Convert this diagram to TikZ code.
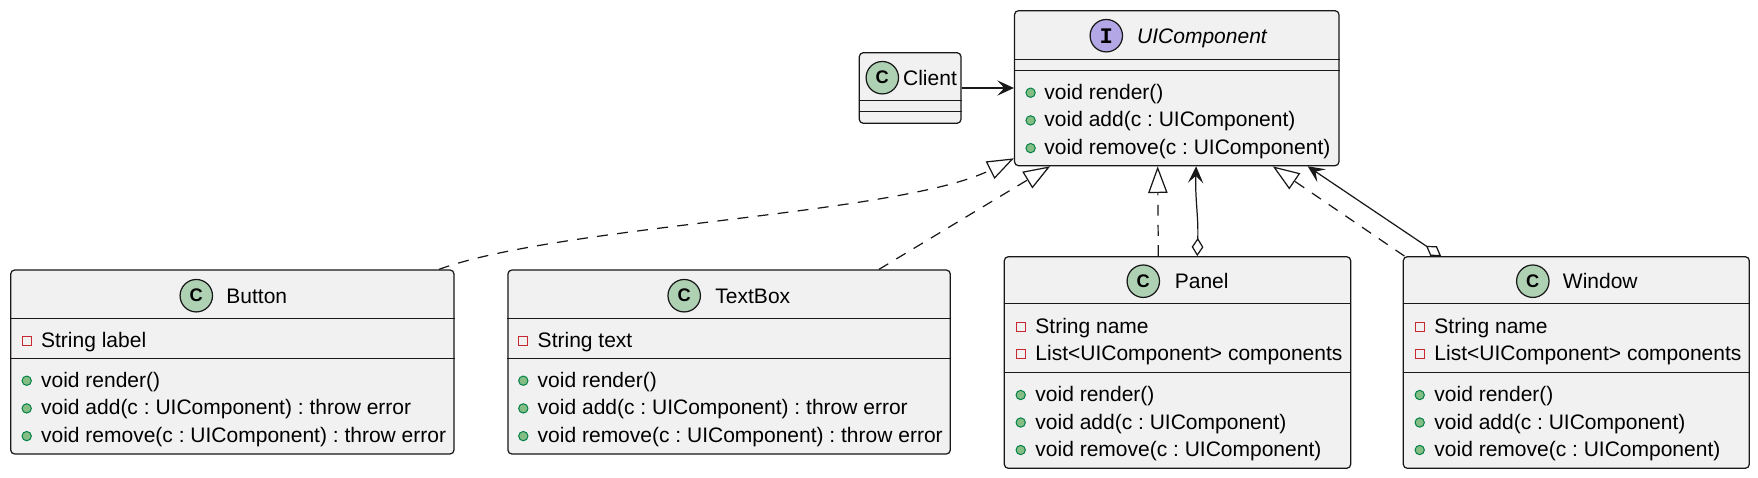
\documentclass[tikz,border=0pt]{standalone}
\usepackage{fontspec}
\setmainfont{Liberation Sans}
\setmonofont{Liberation Mono}
\usepackage{tikz}
\usetikzlibrary{arrows.meta}
\usetikzlibrary{positioning}
\frenchspacing

\definecolor{linec}{HTML}{181818}
\definecolor{boxfill}{HTML}{F1F1F1}
\definecolor{classc}{HTML}{ADD1B2}
\definecolor{ifacec}{HTML}{B4A7E5}
\definecolor{privc}{HTML}{C82930}
\definecolor{pubfill}{HTML}{84BE84}
\definecolor{publine}{HTML}{038048}

\tikzset{
    classbox/.style 2 args={draw=linec, fill=boxfill, line width=0.55pt, rounded corners=1.8pt,
        minimum width=#1*0.45pt, minimum height=#2*0.45pt, inner sep=0pt},
    badge/.style={circle, draw=linec, line width=0.55pt, fill=#1, minimum size=14.6pt, inner sep=0pt,
        font=\fontsize{8.2pt}{8.2pt}\selectfont\bfseries},
    classname/.style={anchor=base, inner sep=0pt},
    member/.style={anchor=base west, inner sep=0pt},
    privmark/.style={draw=privc, line width=0.45pt, minimum size=4.1pt, inner sep=0pt},
    pubmark/.style={circle, draw=publine, fill=pubfill, line width=0.45pt, minimum size=4.2pt, inner sep=0pt},
    sep/.style={draw=linec, line width=0.5pt},
    realize/.style={draw=linec, line width=0.55pt, dash pattern=on 4.9pt off 4.2pt,
        -{Triangle[open, length=12pt, width=8.7pt]}},
    assoc/.style={draw=linec, line width=0.55pt, -{Stealth[length=7.5pt, width=6.9pt, inset=3.2pt]}},
    aggr/.style={draw=linec, line width=0.55pt,
        {Diamond[open, length=8.2pt, width=5.3pt]}-{Stealth[length=7.5pt, width=6.9pt, inset=3.2pt]}}
}

\begin{document}
\begin{tikzpicture}[x=0.45pt, y=-0.45pt, font=\fontsize{9.45pt}{11pt}\selectfont]
        \fill[white] (0, 0) rectangle (1758, 477);
        \useasboundingbox (0, 0) rectangle (1758, 477);

        % class boxes
        \node[classbox={101.7}{70.6}] (client) at (910.15, 88) {};
        \node[classbox={324.5}{155}] (uicomp) at (1176.75, 88.2) {};
        \node[classbox={443.3}{184}] (button) at (232.35, 362) {};
        \node[classbox={442.4}{184}] (textbox) at (729.1, 362) {};
        \node[classbox={346.4}{211.6}] (panel) at (1177.5, 362.5) {};
        \node[classbox={346}{211.6}] (window) at (1576.3, 362.5) {};

        % headers
        \node[badge=classc] (client-badge) at (882.3, 77.7) {C};
        \node[classname] (client-name) at (930, 85.2) {Client};
        \node[badge=ifacec, font=\fontsize{10pt}{10pt}\selectfont\ttfamily\bfseries] (uicomp-badge) at (1106.3, 35.7) {I};
        \node[classname] (uicomp-name) at (1202, 43.2) {\itshape UIComponent};
        \node[badge=classc] (button-badge) at (196.3, 295.7) {C};
        \node[classname] (button-name) at (256.8, 303.2) {Button};
        \node[badge=classc] (textbox-badge) at (684.2, 295.7) {C};
        \node[classname] (textbox-name) at (752.8, 303.2) {TextBox};
        \node[badge=classc] (panel-badge) at (1143.3, 281.2) {C};
        \node[classname] (panel-name) at (1201.7, 288.7) {Panel};
        \node[badge=classc] (window-badge) at (1532.8, 281.2) {C};
        \node[classname] (window-name) at (1600.3, 288.7) {Window};

        % separators
        \draw[sep] (client.west |- 0,100.5) -- (client.east |- 0,100.5);
        \draw[sep] (client.west |- 0,111.5) -- (client.east |- 0,111.5);
        \draw[sep] (uicomp.west |- 0,59.5) -- (uicomp.east |- 0,59.5);
        \draw[sep] (uicomp.west |- 0,70.5) -- (uicomp.east |- 0,70.5);
        \draw[sep] (button.west |- 0,318.5) -- (button.east |- 0,318.5);
        \draw[sep] (button.west |- 0,358.5) -- (button.east |- 0,358.5);
        \draw[sep] (textbox.west |- 0,318.5) -- (textbox.east |- 0,318.5);
        \draw[sep] (textbox.west |- 0,358.5) -- (textbox.east |- 0,358.5);
        \draw[sep] (panel.west |- 0,303.5) -- (panel.east |- 0,303.5);
        \draw[sep] (panel.west |- 0,372.5) -- (panel.east |- 0,372.5);
        \draw[sep] (window.west |- 0,303.5) -- (window.east |- 0,303.5);
        \draw[sep] (window.west |- 0,372.5) -- (window.east |- 0,372.5);

        % members
        \foreach \txt [count=\i] in {void render(), void add(c : UIComponent), void remove(c : UIComponent)} {
            \node[pubmark] (uicomp-dot\i) at (1030.6, {92.7+27.7*(\i-1)}) {};
            \node[member] (uicomp-m\i) at (1044, {99.2+27.7*(\i-1)}) {\txt};
        }

        \node[privmark] (button-sq1) at (26.7, 340.7) {};
        \node[member] (button-a1) at (40.7, 347.2) {String label};
        \foreach \txt [count=\i] in {void render(), void add(c : UIComponent) : throw error, void remove(c : UIComponent) : throw error} {
            \node[pubmark] (button-dot\i) at (26.7, {380.7+27.7*(\i-1)}) {};
            \node[member] (button-m\i) at (40.7, {387.2+27.7*(\i-1)}) {\txt};
        }

        \node[privmark] (textbox-sq1) at (523.3, 340.7) {};
        \node[member] (textbox-a1) at (537.3, 347.2) {String text};
        \foreach \txt [count=\i] in {void render(), void add(c : UIComponent) : throw error, void remove(c : UIComponent) : throw error} {
            \node[pubmark] (textbox-dot\i) at (523.3, {380.7+27.7*(\i-1)}) {};
            \node[member] (textbox-m\i) at (537.3, {387.2+27.7*(\i-1)}) {\txt};
        }

        \foreach \txt [count=\i] in {String name, List<UIComponent> components} {
            \node[privmark] (panel-sq\i) at (1020.7, {326.7+27.6*(\i-1)}) {};
            \node[member] (panel-a\i) at (1035, {333.2+27.6*(\i-1)}) {\txt};
            \node[privmark] (window-sq\i) at (1419.7, {326.7+27.6*(\i-1)}) {};
            \node[member] (window-a\i) at (1434, {333.2+27.6*(\i-1)}) {\txt};
        }
        \foreach \txt [count=\i] in {void render(), void add(c : UIComponent), void remove(c : UIComponent)} {
            \node[pubmark] (panel-dot\i) at (1020.7, {395+27.5*(\i-1)}) {};
            \node[member] (panel-m\i) at (1035, {401.5+27.5*(\i-1)}) {\txt};
            \node[pubmark] (window-dot\i) at (1419.7, {395+27.5*(\i-1)}) {};
            \node[member] (window-m\i) at (1434, {401.5+27.5*(\i-1)}) {\txt};
        }

        % relations
        \draw[assoc] (client.east) -- (client.east -| uicomp.west);
        \draw[realize] ([xshift=-7.07pt]button.north east) .. controls (560, 225) and (900, 215) .. ([yshift=3.6pt]uicomp.south west);
        \draw[realize] ([xshift=-32.4pt]textbox.north east) -- ([xshift=16.3pt]uicomp.south west);
        \draw[realize] ([xshift=-8.64pt]panel.north) -- ([xshift=64.7pt]uicomp.south west);
        \draw[aggr] ([xshift=8.9pt]panel.north) .. controls (1198.5, 215) and (1195, 200) .. ([xshift=82pt]uicomp.south west);
        \draw[realize] ([xshift=0.8pt]window.north west) -- ([xshift=116.5pt]uicomp.south west);
        \draw[aggr] ([xshift=17.3pt]window.north west) -- ([xshift=132.2pt]uicomp.south west);
    \end{tikzpicture}
\end{document}
